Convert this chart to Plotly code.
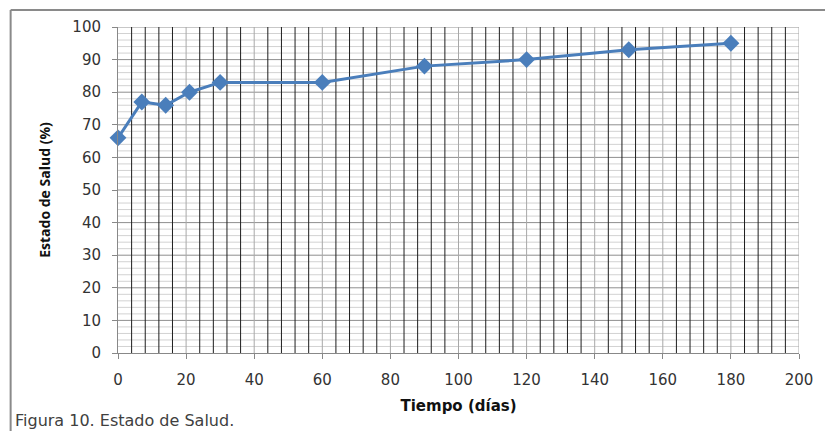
import plotly.graph_objects as go

dias = [0, 7, 14, 21, 30, 60, 90, 120, 150, 180]
estado = [66, 77, 76, 80, 83, 83, 88, 90, 93, 95]

x_title = "Tiempo (días)"
y_title = "Estado de Salud (%)"
caption = "Figura 10. Estado de Salud."

x_range = [0, 200]
x_major, x_minor = 20, 4
y_range = [0, 100]
y_major, y_minor = 10, 2

W, H = 825, 431
L, R, T, B = 118, 22, 27, 78
pw, ph = W - L - R, H - T - B

def px_to_paper_x(px):
    return (px - L) / pw

def px_to_paper_y(py):
    return (H - B - py) / ph

fig = go.Figure()
fig.add_trace(go.Scatter(
    x=dias, y=estado, mode="lines+markers",
    line=dict(color="#4A7EBB", width=3),
    marker=dict(symbol="diamond", size=13, color="#4A7EBB"),
    showlegend=False, cliponaxis=False,
))

tickfont = dict(family="DejaVu Sans", size=15, color="#333333")

fig.update_xaxes(
    range=x_range, dtick=x_major, tick0=0,
    showgrid=False,
    ticks="outside", ticklen=5, tickcolor="#888888",
    showline=True, linecolor="#888888", linewidth=1,
    tickfont=tickfont, zeroline=False, ticklabelstandoff=8,
    title=dict(text="<b>" + x_title + "</b>", font=dict(family="DejaVu Sans", size=15, color="#111111"), standoff=12),
)
fig.update_yaxes(
    range=y_range, dtick=y_major, tick0=0,
    showgrid=False,
    ticks="outside", ticklen=5, tickcolor="#888888",
    showline=True, linecolor="#888888", linewidth=1,
    tickfont=tickfont, zeroline=False, ticklabelstandoff=8,
    title=dict(text="<b>" + y_title + "</b>", font=dict(family="Open Sans", size=14, color="#111111"), standoff=18),
)

# horizontal grid lines: minor first, then major
for v in range(y_range[0] + y_minor, y_range[1] + 1, y_minor):
    if v % y_major != 0:
        fig.add_shape(type="line", xref="paper", yref="y", x0=0, x1=1, y0=v, y1=v,
                      layer="below", line=dict(color="#d2d2d2", width=1))
for v in range(y_range[0] + y_major, y_range[1] + 1, y_major):
    fig.add_shape(type="line", xref="paper", yref="y", x0=0, x1=1, y0=v, y1=v,
                  layer="below", line=dict(color="#8f8f8f", width=1))

# vertical grid lines on top of the horizontal ones
for v in range(x_range[0] + x_minor, x_range[1] + 1, x_minor):
    major = (v % x_major == 0)
    fig.add_shape(type="line", xref="x", yref="paper",
                  x0=v, x1=v, y0=0, y1=1, layer="below",
                  line=dict(color="#a8a8a8" if major else "#1e1e1e", width=1))

# outer chart frame (left and top edges visible)
fig.add_shape(type="line", xref="paper", yref="paper",
              x0=px_to_paper_x(10), x1=px_to_paper_x(10),
              y0=px_to_paper_y(10), y1=px_to_paper_y(440),
              line=dict(color="#8a8a8a", width=2))
fig.add_shape(type="line", xref="paper", yref="paper",
              x0=px_to_paper_x(10), x1=px_to_paper_x(840),
              y0=px_to_paper_y(10), y1=px_to_paper_y(10),
              line=dict(color="#8a8a8a", width=2))

fig.add_annotation(
    text=caption, xref="paper", yref="paper",
    x=px_to_paper_x(12), y=px_to_paper_y(421),
    xanchor="left", yanchor="middle", showarrow=False,
    font=dict(family="DejaVu Sans", size=16, color="#404040"),
)

fig.update_layout(
    width=W, height=H,
    margin=dict(l=L, r=R, t=T, b=B),
    paper_bgcolor="white", plot_bgcolor="white",
)

fig.write_html("out.html")
